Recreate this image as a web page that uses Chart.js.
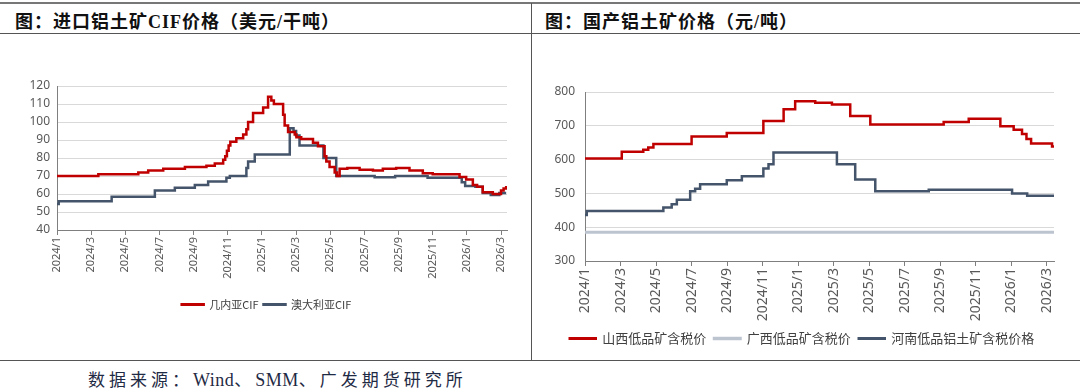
<!DOCTYPE html>
<html>
<head>
    <title>铝土矿价格</title>
    <script src="https://cdn.jsdelivr.net/npm/chart.js"></script>
    <style>
        body {
            margin: 0;
            background: white;
            font-family: "Liberation Serif", "Noto Sans CJK SC", serif;
        }
        #page {
            position: relative;
            width: 1080px;
            height: 390px;
            overflow: hidden;
        }
        .hline {
            position: absolute;
            left: 0;
            width: 1080px;
            height: 1px;
            background: #555;
        }
        .vline {
            position: absolute;
            left: 531px;
            top: 3px;
            width: 1px;
            height: 358px;
            background: #555;
        }
        .title {
            position: absolute;
            top: 7px;
            font-size: 18px;
            font-weight: bold;
            letter-spacing: 1px;
            color: #111;
        }
        .source {
            position: absolute;
            top: 366px;
            left: 88px;
            font-size: 17px;
            letter-spacing: 4px;
            color: #1f2a44;
        }
        .source .latin {
            font-size: 18px;
            letter-spacing: 0.5px;
        }
        .box {
            position: absolute;
            top: 34px;
            height: 326px;
        }
    </style>
</head>
<body>
<div id="page">
    <div class="hline" style="top:2px;height:2px;background:#777"></div>
    <div class="title" style="left:15px">图：进口铝土矿CIF价格（美元/干吨）</div>
    <div class="title" style="left:545px">图：国产铝土矿价格（元/吨）</div>
    <div class="hline" style="top:33px"></div>
    <div class="vline"></div>
    <div class="hline" style="top:360px"></div>
    <div class="source">数据来源：<span class="latin">Wind</span>、<span class="latin">SMM</span>、广发期货研究所</div>

    <div class="box" style="left:0;width:530px"><canvas id="cifChart"></canvas></div>
    <div class="box" style="left:532px;width:548px"><canvas id="domChart"></canvas></div>
</div>

<script>
    // x values are months since 2024/1 (0 = 2024/1, 26 = 2026/3); each point is a price change
    const tickLabels = ['2024/1', '2024/3', '2024/5', '2024/7', '2024/9', '2024/11', '2025/1',
                        '2025/3', '2025/5', '2025/7', '2025/9', '2025/11', '2026/1', '2026/3'];

    // 几内亚CIF
    const guineaX = [0, 2.42, 4.76, 5.34, 6.22, 7.49, 8.75, 9.24, 9.73, 9.85, 9.95, 10.05, 10.15, 10.5,
                     10.9, 11.09, 11.19, 11.48, 12.07, 12.36, 12.55, 12.7, 13.24, 13.33, 13.53, 13.92,
                     14.02, 14.3, 14.99, 15.28, 15.67, 15.77, 15.96, 16.26, 16.39, 16.55, 17.0, 17.72,
                     18.5, 19.08, 19.86, 20.64, 21.42, 22.0, 23.57, 23.96, 24.35, 24.6, 24.93, 25.52,
                     26.0, 26.15, 26.3];
    const guineaY = [70, 71, 72, 73, 74, 75, 75.7, 77, 79, 81, 84, 87, 89, 91,
                     93, 96, 100, 105, 108, 114, 112, 110, 104, 98, 94.5, 93,
                     91.5, 90.5, 88.5, 86.5, 81, 78, 75, 72, 70, 74, 74.5, 73.5,
                     73, 74, 74.5, 73, 71.5, 71, 69.5, 68, 65, 64, 61, 60,
                     62, 63, 64.5];

    // 澳大利亚CIF
    const australiaX = [0, 0.1, 3.2, 5.73, 6.9, 8.07, 8.85, 9.92, 10.12, 11.09, 11.19, 11.58, 13.63,
                        13.85, 14.0, 14.2, 15.6, 16.35, 18.6, 19.8, 21.7, 23.7, 23.9, 24.5, 24.93,
                        25.4, 25.9, 26.3];
    const australiaY = [54.5, 56, 58.5, 62, 63.5, 65, 67, 69, 70, 74.5, 78, 82, 96.5,
                        95, 92.5, 87, 80, 70, 69.3, 70, 69, 66.5, 64.5, 64, 60.5,
                        59.5, 60.5, 60.5];

    // 山西低品矿含税价
    const shanxiX = [0, 2.07, 3.28, 3.56, 3.85, 6.0, 7.98, 10.04, 11.18, 11.83, 12.96, 13.9, 14.93,
                     16.06, 20.19, 21.6, 23.38, 24.13, 24.6, 24.85, 25.11, 26.29, 26.4];
    const shanxiY = [603, 623, 629, 636, 646, 668, 679, 714, 749, 773, 768, 763, 729,
                     704, 711, 721, 699, 688, 676, 661, 648, 639, 639];

    // 广西低品矿含税价
    const guangxiX = [0, 26.4];
    const guangxiY = [385, 385];

    // 河南低品铝土矿含税价格
    const henanX = [0, 0.1, 4.41, 4.88, 5.17, 5.92, 6.2, 6.48, 7.98, 8.83, 10.04, 10.33, 10.61,
                    14.18, 15.21, 16.34, 19.35, 24.04, 24.89, 26.4];
    const henanY = [436, 448, 458, 468, 481, 506, 514, 527, 539, 551, 574, 586, 621,
                    586, 541, 506, 511, 500, 493, 493];

    const RED = '#c00000';
    const SLATE = '#44546a';
    const LIGHT = '#bcc4d0';

    const toPoints = (xs, ys) => xs.map((x, i) => ({ x: x, y: ys[i] }));

    // each value holds until the next change point
    const makeSeries = (label, xs, ys, color, width) => ({
        label: label,
        data: toPoints(xs, ys),
        borderColor: color,
        backgroundColor: color,
        borderWidth: width,
        stepped: 'before',
        pointRadius: 0,
        tension: 0
    });

    // shared chart builder, sizes passed in so the plot areas land where the reference has them
    const initChart = (id, datasets, opt) => {
        const ctx = document.getElementById(id).getContext('2d');
        return new Chart(ctx, {
            type: 'line',
            data: { datasets: datasets },
            options: {
                responsive: true,
                maintainAspectRatio: false,
                animation: false,
                devicePixelRatio: 1,
                layout: { padding: opt.padding },
                scales: {
                    x: {
                        type: 'linear',
                        min: 0,
                        max: opt.xMax,
                        afterBuildTicks: s => { s.ticks = tickLabels.map((t, i) => ({ value: i * 2 })); },
                        afterFit: s => { s.height = opt.xHeight; },
                        ticks: {
                            autoSkip: false,
                            minRotation: 90,
                            maxRotation: 90,
                            padding: 2,
                            color: '#595959',
                            font: { family: '"Noto Sans", sans-serif', size: opt.xFont },
                            callback: v => tickLabels[Math.round(v / 2)]
                        },
                        grid: { drawOnChartArea: false, tickLength: 5, color: '#7f7f7f' },
                        border: { color: '#7f7f7f' }
                    },
                    y: {
                        min: opt.yMin,
                        max: opt.yMax,
                        afterFit: s => { s.width = opt.yWidth; },
                        ticks: {
                            stepSize: opt.yStep,
                            padding: opt.yPad,
                            color: '#595959',
                            font: { family: '"Noto Sans", sans-serif', size: 12 }
                        },
                        grid: { color: '#d9d9d9', drawTicks: false },
                        border: { color: '#7f7f7f' }
                    }
                },
                plugins: {
                    legend: {
                        position: 'bottom',
                        labels: {
                            boxWidth: opt.boxWidth,
                            boxHeight: 0.5,
                            padding: opt.legendPad,
                            color: '#404040',
                            font: { family: '"Noto Sans CJK SC", sans-serif', size: opt.legendFont }
                        }
                    },
                    tooltip: { enabled: false }
                }
            }
        });
    };

    const charts = {
        cif: initChart('cifChart', [
            makeSeries('几内亚CIF', guineaX, guineaY, RED, 2.5),
            makeSeries('澳大利亚CIF', australiaX, australiaY, SLATE, 2.5)
        ], {
            padding: { top: 52, right: 23, bottom: 40, left: 26 },
            xMax: 26.35, xHeight: 64, xFont: 11,
            yMin: 40, yMax: 120, yStep: 10, yWidth: 31, yPad: 7,
            boxWidth: 22, legendPad: 5, legendFont: 11
        }),
        domestic: initChart('domChart', [
            makeSeries('山西低品矿含税价', shanxiX, shanxiY, RED, 2.5),
            makeSeries('广西低品矿含税价', guangxiX, guangxiY, LIGHT, 3),
            makeSeries('河南低品铝土矿含税价格', henanX, henanY, SLATE, 2.5)
        ], {
            padding: { top: 58, right: 26, bottom: 5, left: 18 },
            xMax: 26.4, xHeight: 63, xFont: 14,
            yMin: 300, yMax: 800, yStep: 100, yWidth: 35, yPad: 10,
            boxWidth: 26, legendPad: 8, legendFont: 13
        })
    };
</script>
</body>
</html>
